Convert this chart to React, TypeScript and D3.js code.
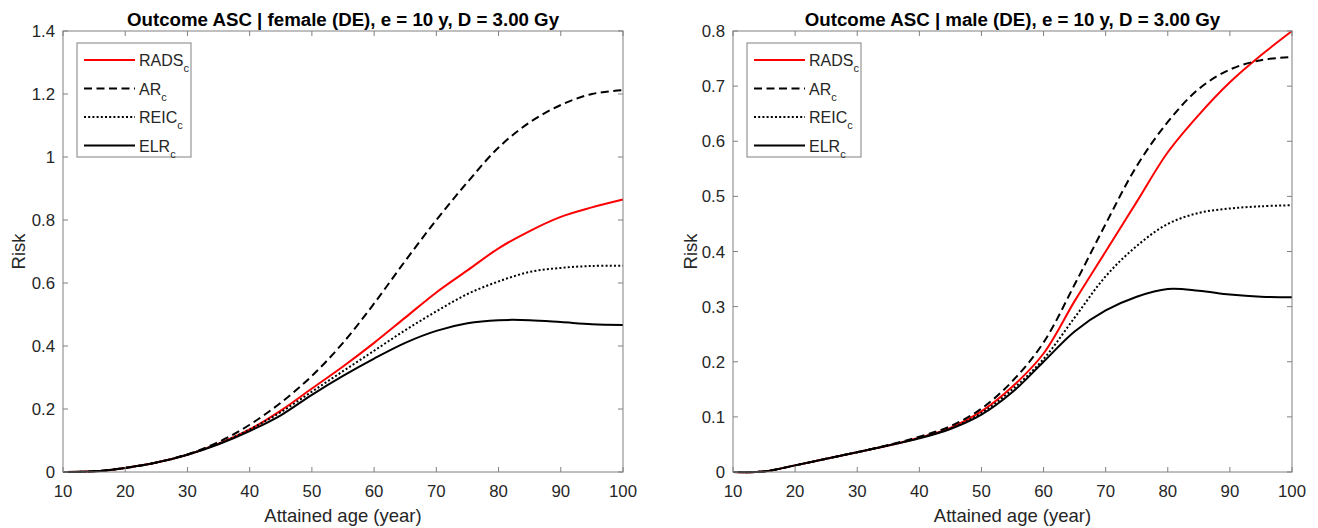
import React from "react";
import * as d3 from "d3";

const ages = [10, 15, 20, 25, 30, 35, 40, 45, 50, 55, 60, 65, 70, 75, 80, 85, 90, 95, 100];

// female panel
const femaleRADS = [0, 0.002, 0.013, 0.03, 0.055, 0.09, 0.135, 0.195, 0.265, 0.335, 0.41, 0.49, 0.57, 0.64, 0.71, 0.765, 0.81, 0.84, 0.865];
const femaleAR = [0, 0.002, 0.013, 0.03, 0.056, 0.095, 0.15, 0.22, 0.305, 0.41, 0.535, 0.67, 0.8, 0.92, 1.03, 1.11, 1.165, 1.2, 1.212];
const femaleREIC = [0, 0.002, 0.013, 0.03, 0.055, 0.09, 0.135, 0.19, 0.255, 0.32, 0.385, 0.45, 0.51, 0.565, 0.605, 0.635, 0.648, 0.654, 0.655];
const femaleELR = [0, 0.002, 0.013, 0.03, 0.055, 0.088, 0.13, 0.18, 0.245, 0.305, 0.36, 0.41, 0.448, 0.472, 0.482, 0.482, 0.476, 0.469, 0.467];

// male panel
const maleRADS = [0, 0.001, 0.012, 0.024, 0.036, 0.048, 0.062, 0.08, 0.11, 0.155, 0.215, 0.31, 0.4, 0.49, 0.58, 0.648, 0.707, 0.756, 0.8];
const maleAR = [0, 0.001, 0.012, 0.024, 0.036, 0.049, 0.064, 0.083, 0.115, 0.165, 0.235, 0.34, 0.45, 0.555, 0.635, 0.695, 0.73, 0.747, 0.753];
const maleREIC = [0, 0.001, 0.012, 0.024, 0.036, 0.048, 0.062, 0.079, 0.107, 0.15, 0.205, 0.28, 0.355, 0.41, 0.45, 0.47, 0.478, 0.482, 0.484];
const maleELR = [0, 0.001, 0.012, 0.024, 0.036, 0.048, 0.061, 0.078, 0.104, 0.145, 0.2, 0.255, 0.293, 0.318, 0.332, 0.329, 0.322, 0.318, 0.317];

const xTicks = [10, 20, 30, 40, 50, 60, 70, 80, 90, 100];
const femaleYTicks = [0, 0.2, 0.4, 0.6, 0.8, 1, 1.2, 1.4];
const maleYTicks = [0, 0.1, 0.2, 0.3, 0.4, 0.5, 0.6, 0.7, 0.8];

const seriesNames = ["RADS", "AR", "REIC", "ELR"];
const seriesStyles = [
  { stroke: "#ff0000", dash: "" },
  { stroke: "#000000", dash: "8,4.5" },
  { stroke: "#000000", dash: "2,2.2" },
  { stroke: "#000000", dash: "" },
];

const FONT = "'Liberation Sans', Arial, sans-serif";
const AXIS_COLOR = "#808080";
const TEXT_COLOR = "#262626";

type PanelProps = {
  left: number;
  right: number;
  top: number;
  bottom: number;
  yMax: number;
  yTicks: number[];
  title: string;
  series: number[][];
  yLabelX: number;
};

function fmt(v: number) {
  if (v === 0) return "0";
  if (v === 1) return "1";
  return String(Math.round(v * 10) / 10);
}

function Panel({ left, right, top, bottom, yMax, yTicks, title, series, yLabelX }: PanelProps) {
  const x = d3.scaleLinear().domain([10, 100]).range([left, right]);
  const y = d3.scaleLinear().domain([0, yMax]).range([bottom, top]);
  const line = d3
    .line<number>()
    .x((_, i) => x(ages[i]))
    .y((d) => y(d))
    .curve(d3.curveCatmullRom.alpha(0.5));
  const tl = 5;
  const cx = (left + right) / 2;
  const lx = left + 14;
  const ly = top + 12;
  const lw = 114;
  const lh = 114;
  return (
    <g>
      <rect x={left} y={top} width={right - left} height={bottom - top} fill="#fff" />
      {series.map((s, i) => (
        <path
          key={i}
          d={line(s) || ""}
          fill="none"
          stroke={seriesStyles[i].stroke}
          strokeWidth={2}
          strokeDasharray={seriesStyles[i].dash || undefined}
        />
      ))}
      <rect x={left} y={top} width={right - left} height={bottom - top} fill="none" stroke={AXIS_COLOR} strokeWidth={1} />
      {xTicks.map((t) => (
        <g key={"x" + t}>
          <line x1={x(t)} x2={x(t)} y1={bottom} y2={bottom - tl} stroke={AXIS_COLOR} />
          <line x1={x(t)} x2={x(t)} y1={top} y2={top + tl} stroke={AXIS_COLOR} />
          <text x={x(t)} y={bottom + 25} textAnchor="middle" fontSize={16.8} fill={TEXT_COLOR} fontFamily={FONT}>
            {t}
          </text>
        </g>
      ))}
      {yTicks.map((t) => (
        <g key={"y" + t}>
          <line x1={left} x2={left + tl} y1={y(t)} y2={y(t)} stroke={AXIS_COLOR} />
          <line x1={right} x2={right - tl} y1={y(t)} y2={y(t)} stroke={AXIS_COLOR} />
          <text x={left - 8} y={y(t) + 6} textAnchor="end" fontSize={16.8} fill={TEXT_COLOR} fontFamily={FONT}>
            {fmt(t)}
          </text>
        </g>
      ))}
      <text x={cx} y={26} textAnchor="middle" fontSize={18.7} fontWeight="bold" fill="#000" fontFamily={FONT}>
        {title}
      </text>
      <text x={cx} y={522} textAnchor="middle" fontSize={18.5} fill={TEXT_COLOR} fontFamily={FONT}>
        Attained age (year)
      </text>
      <text
        transform={`translate(${yLabelX},${(top + bottom) / 2}) rotate(-90)`}
        textAnchor="middle"
        fontSize={18.5}
        fill={TEXT_COLOR}
        fontFamily={FONT}
      >
        Risk
      </text>
      <rect x={lx} y={ly} width={lw} height={lh} fill="#fff" stroke={AXIS_COLOR} strokeWidth={1} />
      {seriesNames.map((n, i) => {
        const yy = ly + 17 + i * 28.5;
        return (
          <g key={n}>
            <line
              x1={lx + 7}
              x2={lx + 58}
              y1={yy}
              y2={yy}
              stroke={seriesStyles[i].stroke}
              strokeWidth={2}
              strokeDasharray={seriesStyles[i].dash || undefined}
            />
            <text x={lx + 62} y={yy + 6} fontSize={16} fill={TEXT_COLOR} fontFamily={FONT}>
              {n}
              <tspan fontSize={11} dy={6}>c</tspan>
            </text>
          </g>
        );
      })}
    </g>
  );
}

export default function App() {
  return (
    <svg
      width={1318}
      height={528}
      style={{ position: "absolute", left: 0, top: 0, background: "#fff" }}
    >
      <rect width={1318} height={528} fill="#fff" />
      <Panel
        left={63}
        right={623}
        top={31}
        bottom={472}
        yMax={1.4}
        yTicks={femaleYTicks}
        title="Outcome ASC | female (DE), e = 10 y, D = 3.00 Gy"
        series={[femaleRADS, femaleAR, femaleREIC, femaleELR]}
        yLabelX={25}
      />
      <Panel
        left={733}
        right={1292}
        top={31}
        bottom={472}
        yMax={0.8}
        yTicks={maleYTicks}
        title="Outcome ASC | male (DE), e = 10 y, D = 3.00 Gy"
        series={[maleRADS, maleAR, maleREIC, maleELR]}
        yLabelX={697}
      />
    </svg>
  );
}
